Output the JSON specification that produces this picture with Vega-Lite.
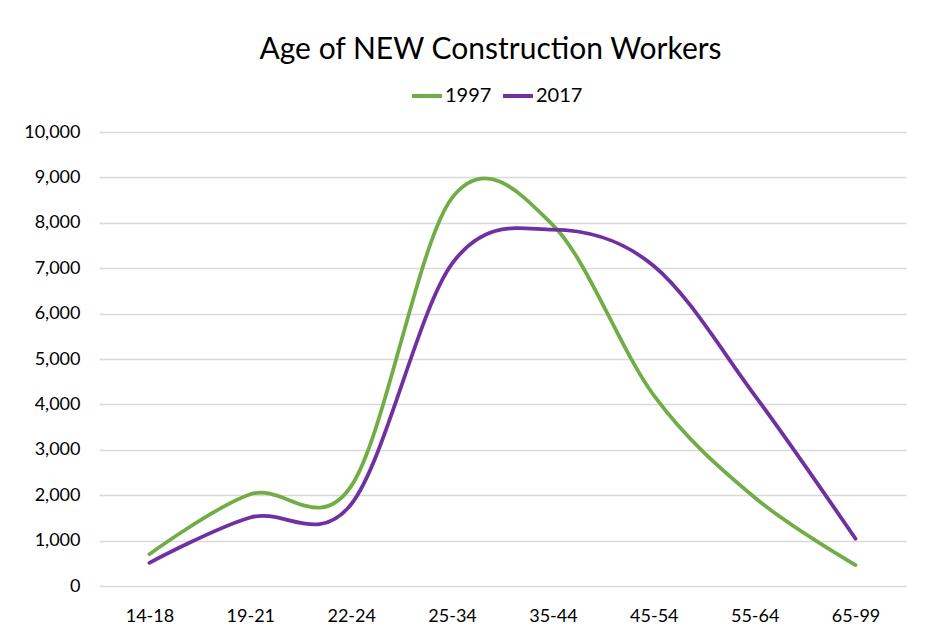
{
  "$schema": "https://vega.github.io/schema/vega-lite/v6.json",
  "autosize": "none",
  "width": 807,
  "height": 454,
  "padding": {"left": 99, "top": 132, "right": 20, "bottom": 55},
  "background": "white",
  "title": {
    "text": "Age of NEW Construction Workers",
    "font": "Lato",
    "fontSize": 30,
    "fontWeight": "normal",
    "color": "#000000",
    "anchor": "middle",
    "dx": -12,
    "offset": 14
  },
  "data": {
    "values": [
      {"age": "14-18", "year": "1997", "workers": 700},
      {"age": "19-21", "year": "1997", "workers": 2020},
      {"age": "22-24", "year": "1997", "workers": 2200},
      {"age": "25-34", "year": "1997", "workers": 8550},
      {"age": "35-44", "year": "1997", "workers": 7950},
      {"age": "45-54", "year": "1997", "workers": 4200},
      {"age": "55-64", "year": "1997", "workers": 1950},
      {"age": "65-99", "year": "1997", "workers": 460},
      {"age": "14-18", "year": "2017", "workers": 510},
      {"age": "19-21", "year": "2017", "workers": 1510},
      {"age": "22-24", "year": "2017", "workers": 1800},
      {"age": "25-34", "year": "2017", "workers": 7100},
      {"age": "35-44", "year": "2017", "workers": 7850},
      {"age": "45-54", "year": "2017", "workers": 7050},
      {"age": "55-64", "year": "2017", "workers": 4200},
      {"age": "65-99", "year": "2017", "workers": 1040}
    ]
  },
  "mark": {"type": "line", "interpolate": "cardinal", "strokeWidth": 3.75, "strokeCap": "round"},
  "encoding": {
    "x": {
      "field": "age",
      "type": "ordinal",
      "sort": null,
      "scale": {"type": "point", "padding": 0.5},
      "axis": {
        "title": null,
        "labelAngle": 0,
        "labelFont": "Lato",
        "labelFontSize": 18,
        "labelColor": "#000000",
        "labelPadding": 21,
        "ticks": false,
        "domain": false,
        "grid": false
      }
    },
    "y": {
      "field": "workers",
      "type": "quantitative",
      "scale": {"domain": [0, 10000], "nice": false},
      "axis": {
        "title": null,
        "values": [0, 1000, 2000, 3000, 4000, 5000, 6000, 7000, 8000, 9000, 10000],
        "format": ",.0f",
        "labelFont": "Lato",
        "labelFontSize": 18,
        "labelColor": "#000000",
        "labelPadding": 19,
        "ticks": false,
        "domain": false,
        "grid": true,
        "gridColor": "#D9D9D9",
        "gridWidth": 1.5
      }
    },
    "color": {
      "field": "year",
      "type": "nominal",
      "scale": {"domain": ["1997", "2017"], "range": ["#70AD47", "#7030A0"]},
      "legend": {
        "title": null,
        "orient": "none",
        "direction": "horizontal",
        "legendX": 311,
        "legendY": -53,
        "symbolType": "stroke",
        "symbolSize": 900,
        "symbolStrokeWidth": 4,
        "labelFont": "Lato",
        "labelFontSize": 20,
        "labelColor": "#000000",
        "labelOffset": 1,
        "columnPadding": 3
      }
    }
  },
  "config": {
    "view": {"stroke": null}
  }
}
